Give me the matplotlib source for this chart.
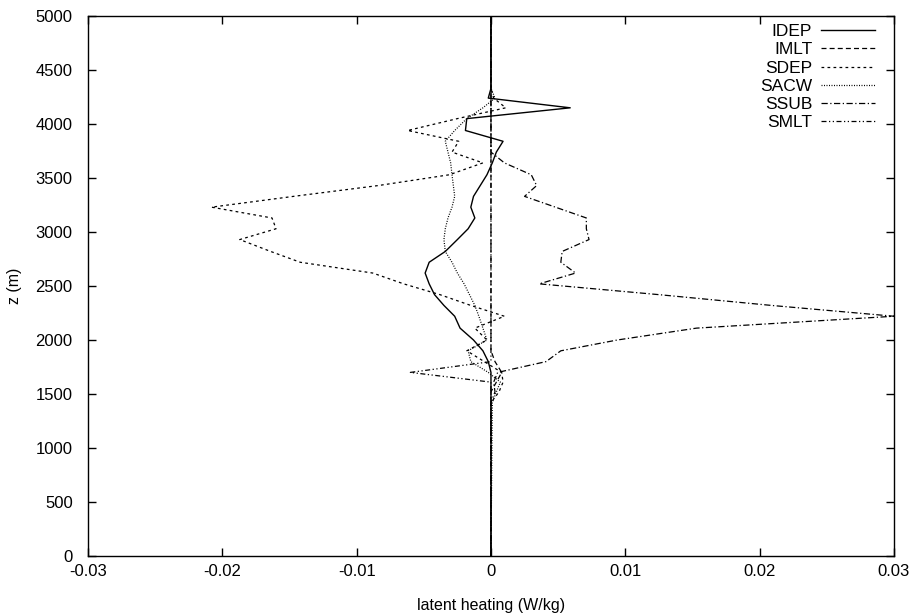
import matplotlib
matplotlib.use("Agg")
import matplotlib.pyplot as plt
import numpy as np

plt.rcParams['font.family'] = ['Liberation Sans', 'DejaVu Sans']

# model levels (m)
z = [0, 1420, 1520, 1610, 1700, 1800, 1900, 2000, 2110, 2220, 2320, 2420,
     2520, 2620, 2720, 2820, 2930, 3030, 3130, 3230, 3330, 3430, 3530,
     3640, 3740, 3840, 3940, 4050, 4150, 4240, 4330, 5000]

# latent heating terms (W/kg)
idep = [0, 0, 0, 0, 0, -0.0002, -0.0006, -0.0013, -0.0023, -0.0027, -0.0035, -0.0042,
        -0.0046, -0.0049, -0.0046, -0.0034, -0.0025, -0.0017, -0.0012, -0.0015, -0.0013, -0.0008, -0.0003,
        0.0001, 0.0004, 0.0009, -0.0019, -0.0018, 0.0059, -0.0002, 0, 0]
imlt = [0, 0, 0, 0.0004, 0.0008, 0.0003, 0, 0, 0, 0, 0, 0,
        0, 0, 0, 0, 0, 0, 0, 0, 0, 0, 0,
        0, 0, 0, 0, 0, 0, 0, 0, 0]
sdep = [0, 0, 0.0006, 0.0009, 0.0008, -0.0005, -0.0018, -0.0003, -0.0012, 0.0010, -0.0015, -0.0038,
        -0.0065, -0.0088, -0.0142, -0.0164, -0.0187, -0.0160, -0.0163, -0.0208, -0.0147, -0.0084, -0.0031,
        -0.0006, -0.0029, -0.0024, -0.0062, -0.0025, 0.0011, 0.0002, 0, 0]
sacw = [0, 0.0001, 0.0004, 0.0007, -0.0002, -0.0015, -0.0017, -0.0003, -0.0006, -0.0009, -0.0012, -0.0016,
        -0.0020, -0.0025, -0.0029, -0.0034, -0.0035, -0.0034, -0.0032, -0.0029, -0.0027, -0.0028, -0.0029,
        -0.0030, -0.0032, -0.0034, -0.0027, -0.0018, -0.0006, 0.0003, 0, 0]
ssub = [0, 0, 0.0003, 0.0002, 0.0005, 0.0041, 0.0052, 0.0094, 0.0153, 0.0300, 0.0209, 0.0125,
        0.0036, 0.0063, 0.0052, 0.0053, 0.0073, 0.0071, 0.0071, 0.0048, 0.0025, 0.0034, 0.0030,
        0.0010, 0, 0, 0, 0, 0, 0, 0, 0]
smlt = [0, 0, 0, 0, -0.0060, 0, 0, 0, 0, 0, 0, 0,
        0, 0, 0, 0, 0, 0, 0, 0, 0, 0, 0,
        0, 0, 0, 0, 0, 0, 0, 0, 0]

series = [("IDEP", idep, (None, None)),
          ("IMLT", imlt, (0, (4, 2.5))),
          ("SDEP", sdep, (0, (2.2, 2.6))),
          ("SACW", sacw, (0, (0.8, 1.2))),
          ("SSUB", ssub, (0, (5, 2, 1, 2))),
          ("SMLT", smlt, (0, (4, 2, 1, 2, 1, 2)))]

fig = plt.figure(figsize=(9.22, 6.16), dpi=100)
ax = fig.add_axes([0.0954, 0.0974, 0.8742, 0.8766])

for name, vals, ls in series:
    if ls[0] is None:
        ax.plot(vals, z, color='black', lw=1.0, label=name)
    else:
        ax.plot(vals, z, color='black', lw=0.9, linestyle=ls, label=name)

ax.set_xlim(-0.03, 0.03)
ax.set_ylim(0, 5000)
ax.set_xticks([-0.03, -0.02, -0.01, 0, 0.01, 0.02, 0.03])
ax.set_xticklabels(["-0.03", "-0.02", "-0.01", "0", "0.01", "0.02", "0.03"])
ax.set_yticks(np.arange(0, 5001, 500))
ax.tick_params(direction='in', top=True, right=True, length=6, width=1,
               labelsize=12)
ax.tick_params(axis='y', pad=11)
ax.tick_params(axis='x', pad=6)
for s in ax.spines.values():
    s.set_linewidth(1.0)

ax.set_xlabel("latent heating (W/kg)", fontsize=11.5)
ax.set_ylabel("z (m)", fontsize=11.5)
ax.xaxis.set_label_coords(0.5, -0.078)
ax.yaxis.set_label_coords(-0.082, 0.5)

ax.legend(loc='upper right', bbox_to_anchor=(0.9825, 0.995), markerfirst=False,
          frameon=False, fontsize=12.5, handlelength=3.1, handletextpad=0.5,
          labelspacing=0.18, borderpad=0.3, borderaxespad=0.0)

fig.savefig("out.png", dpi=100)
